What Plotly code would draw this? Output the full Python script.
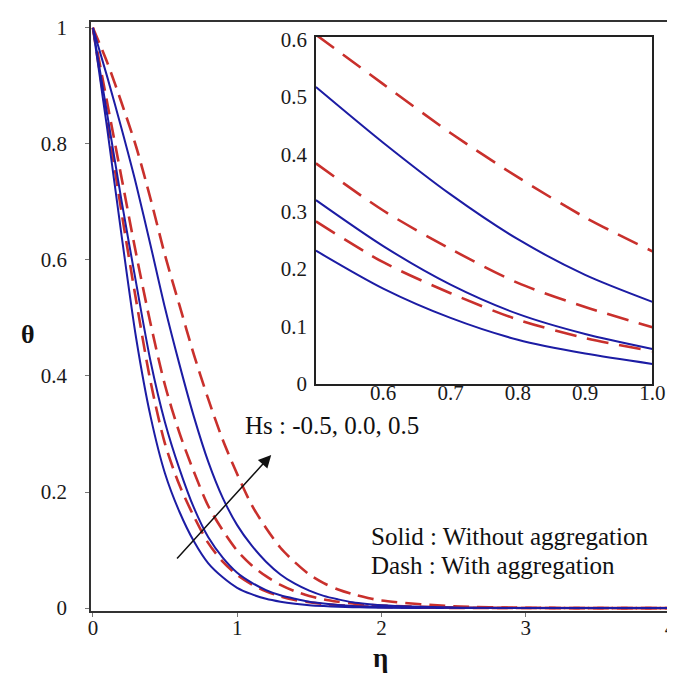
import plotly.graph_objects as go

# ---------------- data ----------------
eta = [0, 0.1, 0.2, 0.3, 0.4, 0.5, 0.6, 0.7, 0.8, 0.9, 1.0,
       1.1, 1.2, 1.3, 1.4, 1.5, 1.6, 1.7, 1.8, 1.9, 2.0,
       2.5, 3.0, 3.5, 4.0]

# Solid: without aggregation (Hs = -0.5, 0.0, 0.5)
solid_hs_m05 = [1, 0.825, 0.64, 0.465, 0.33, 0.232, 0.166, 0.115, 0.077, 0.053, 0.035,
                0.024, 0.016, 0.011, 0.0075, 0.005, 0.0035, 0.0024, 0.0016, 0.0011, 0.0008,
                0.0001, 0, 0, 0]
solid_hs_00 = [1, 0.85, 0.70, 0.56, 0.425, 0.32, 0.24, 0.173, 0.122, 0.087, 0.061,
               0.044, 0.031, 0.022, 0.016, 0.011, 0.0078, 0.0055, 0.0038, 0.0027, 0.0019,
               0.0004, 0.0001, 0, 0]
solid_hs_05 = [1, 0.915, 0.825, 0.73, 0.625, 0.517, 0.42, 0.33, 0.252, 0.19, 0.143,
               0.108, 0.08, 0.058, 0.042, 0.030, 0.021, 0.015, 0.010, 0.007, 0.005,
               0.001, 0.0002, 0, 0]

# Dash: with aggregation (Hs = -0.5, 0.0, 0.5)
dash_hs_m05 = [1, 0.84, 0.68, 0.53, 0.39, 0.283, 0.212, 0.158, 0.112, 0.08, 0.057,
               0.041, 0.029, 0.02, 0.014, 0.01, 0.007, 0.005, 0.0035, 0.0025, 0.0018,
               0.0004, 0.0001, 0, 0]
dash_hs_00 = [1, 0.87, 0.74, 0.61, 0.49, 0.384, 0.302, 0.235, 0.176, 0.134, 0.099,
              0.074, 0.055, 0.04, 0.029, 0.021, 0.015, 0.011, 0.008, 0.0058, 0.0042,
              0.001, 0.0002, 0, 0]
dash_hs_05 = [1, 0.94, 0.87, 0.795, 0.705, 0.608, 0.522, 0.437, 0.36, 0.29, 0.231,
              0.178, 0.138, 0.104, 0.079, 0.058, 0.043, 0.032, 0.024, 0.018, 0.013,
              0.003, 0.0006, 0.0001, 0]

# inset shows the window eta = 0.5 .. 1.0
inset_eta_min, inset_eta_max = 0.5, 1.0

main_yticks = [0, 0.2, 0.4, 0.6, 0.8, 1]
main_xticks = [0, 1, 2, 3, 4]
inset_xticks = [0.6, 0.7, 0.8, 0.9, 1.0]
inset_yticks = [0, 0.1, 0.2, 0.3, 0.4, 0.5, 0.6]

hs_label = "Hs : -0.5, 0.0, 0.5"
solid_label = "Solid : Without aggregation"
dash_label = "Dash : With aggregation"

# ---------------- style ----------------
BLUE = "#1c1ca4"
RED = "#c9302c"
FONT = "Liberation Serif, Times New Roman, serif"
TXT = "#1a1a1a"

fig = go.Figure()

solids = [solid_hs_m05, solid_hs_00, solid_hs_05]
dashes = [dash_hs_m05, dash_hs_00, dash_hs_05]


def window(vals):
    xs, ys = [], []
    for e, v in zip(eta, vals):
        if inset_eta_min - 1e-9 <= e <= inset_eta_max + 1e-9:
            xs.append(e)
            ys.append(v)
    return xs, ys


for s, d in zip(solids, dashes):
    fig.add_trace(go.Scatter(x=eta, y=d, mode="lines",
                             line=dict(color=RED, width=2.6, dash="16px,8px",
                                       shape="spline", smoothing=0.8),
                             showlegend=False))
    fig.add_trace(go.Scatter(x=eta, y=s, mode="lines",
                             line=dict(color=BLUE, width=2, shape="spline", smoothing=0.8),
                             showlegend=False))
    xd, yd = window(d)
    xs, ys = window(s)
    fig.add_trace(go.Scatter(x=xd, y=yd, mode="lines", xaxis="x2", yaxis="y2",
                             line=dict(color=RED, width=2.6, dash="22px,11px",
                                       shape="spline", smoothing=0.8),
                             showlegend=False))
    fig.add_trace(go.Scatter(x=xs, y=ys, mode="lines", xaxis="x2", yaxis="y2",
                             line=dict(color=BLUE, width=2, shape="spline", smoothing=0.8),
                             showlegend=False))

tickfont = dict(family=FONT, size=21, color=TXT)

fig.update_layout(
    width=675, height=675,
    margin=dict(l=83, r=0, t=14, b=72),
    paper_bgcolor="white", plot_bgcolor="white",
    font=dict(family=FONT, color=TXT),
    xaxis=dict(range=[-0.013, 4.0], tickvals=main_xticks, mirror=True, domain=[0, 1],
               showgrid=False, zeroline=False, showline=True, linecolor="#333333",
               linewidth=1.5, ticks="outside", ticklen=4, tickcolor="#777777",
               ticklabelstandoff=-7, tickfont=tickfont),
    yaxis=dict(range=[-0.005, 1.01], tickvals=main_yticks, domain=[0, 1],
               showgrid=False, zeroline=False, showline=True, linecolor="#333333",
               linewidth=1.5, ticks="outside", ticklen=4, tickcolor="#777777",
               ticklabelstandoff=14, tickfont=tickfont),
    xaxis2=dict(anchor="y2", domain=[0.3885, 0.9696], range=[inset_eta_min, inset_eta_max],
                tickvals=inset_xticks, tickformat=".1f", mirror=True, ticks="",
                ticklabelstandoff=-11,
                showgrid=False, zeroline=False, showline=True, linecolor="#222222",
                linewidth=1.5, tickfont=tickfont),
    yaxis2=dict(anchor="x2", domain=[0.3854, 0.9745], range=[0, 0.604],
                tickvals=inset_yticks, mirror=True, ticks="", ticklabelstandoff=3,
                showgrid=False, zeroline=False, showline=True, linecolor="#222222",
                linewidth=1.5, tickfont=tickfont),
)

# axis titles
fig.add_annotation(text="<b>θ</b>", xref="paper", yref="paper", x=-0.108, y=0.469,
                   xanchor="center", yanchor="middle", showarrow=False,
                   font=dict(family=FONT, size=26, color="#111111"))
fig.add_annotation(text="<b>η</b>", xref="paper", yref="paper", x=0.50, y=-0.08,
                   xanchor="center", yanchor="middle", showarrow=False,
                   font=dict(family=FONT, size=27, color="#111111"))

# arrow
fig.add_annotation(x=1.236, y=0.264, ax=0.574, ay=0.083, xref="x", yref="y",
                   axref="x", ayref="y", text="", showarrow=True,
                   arrowhead=2, arrowsize=1.7, arrowwidth=1.5, arrowcolor="#111111")
fig.add_annotation(text=hs_label, x=1.04, y=0.315, xref="x", yref="y",
                   xanchor="left", yanchor="middle", showarrow=False,
                   font=dict(family=FONT, size=25, color="#111111"))
fig.add_annotation(text=solid_label, x=1.915, y=0.124, xref="x", yref="y",
                   xanchor="left", yanchor="middle", showarrow=False,
                   font=dict(family=FONT, size=25, color="#111111"))
fig.add_annotation(text=dash_label, x=1.915, y=0.073, xref="x", yref="y",
                   xanchor="left", yanchor="middle", showarrow=False,
                   font=dict(family=FONT, size=25, color="#111111"))

fig.write_html("out.html")
